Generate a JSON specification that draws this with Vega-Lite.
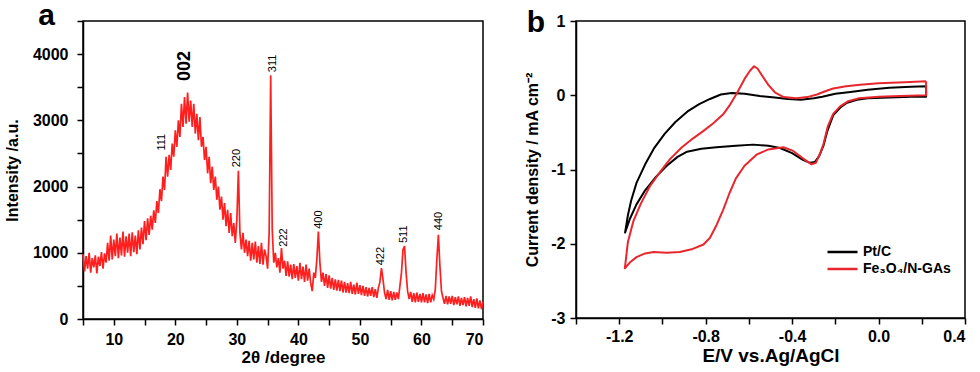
{
 "$schema": "https://vega.github.io/schema/vega-lite/v6.json",
 "background": "white",
 "padding": {"left": 3, "top": 0, "right": 5, "bottom": 2},
 "config": {
  "font": "Liberation Sans",
  "view": {"stroke": "black", "strokeWidth": 1.5},
  "axis": {"domainColor": "black", "domainWidth": 1.5, "tickColor": "black", "tickWidth": 1.5, "tickSize": 6, "labelColor": "black", "labelFont": "Liberation Sans", "labelFontWeight": "bold", "labelFontSize": 16, "labelOverlap": false, "titleColor": "black", "titleFont": "Liberation Sans", "titleFontWeight": "bold", "grid": false}
 },
 "datasets": {
  "xrd": [
   {"t":5,"i":980},{"t":5.25,"i":720},{"t":5.5,"i":950},{"t":5.75,"i":760},{"t":6,"i":1000},{"t":6.25,"i":700},{"t":6.5,"i":920},{"t":6.75,"i":780},
   {"t":7,"i":960},{"t":7.25,"i":690},{"t":7.5,"i":940},{"t":7.75,"i":800},{"t":8,"i":1010},{"t":8.25,"i":760},{"t":8.5,"i":990},{"t":8.75,"i":850},
   {"t":9,"i":1150},{"t":9.25,"i":880},{"t":9.5,"i":1260},{"t":9.75,"i":900},{"t":10,"i":1200},{"t":10.25,"i":950},{"t":10.5,"i":1290},{"t":10.75,"i":920},
   {"t":11,"i":1230},{"t":11.25,"i":960},{"t":11.5,"i":1320},{"t":11.75,"i":940},{"t":12,"i":1250},{"t":12.25,"i":1000},{"t":12.5,"i":1290},{"t":12.75,"i":950},
   {"t":13,"i":1310},{"t":13.25,"i":1010},{"t":13.5,"i":1260},{"t":13.75,"i":980},{"t":14,"i":1340},{"t":14.25,"i":1050},{"t":14.5,"i":1380},{"t":14.75,"i":1130},
   {"t":15,"i":1480},{"t":15.25,"i":1190},{"t":15.5,"i":1520},{"t":15.75,"i":1270},{"t":16,"i":1560},{"t":16.25,"i":1350},{"t":16.5,"i":1640},{"t":16.75,"i":1450},
   {"t":17,"i":1780},{"t":17.25,"i":1600},{"t":17.5,"i":1960},{"t":17.75,"i":1780},{"t":18,"i":2150},{"t":18.25,"i":1950},{"t":18.5,"i":2450},{"t":18.75,"i":2150},
   {"t":19,"i":2480},{"t":19.25,"i":2250},{"t":19.5,"i":2650},{"t":19.75,"i":2450},{"t":20,"i":2850},{"t":20.25,"i":2600},{"t":20.5,"i":3000},{"t":20.75,"i":2750},
   {"t":21,"i":3250},{"t":21.25,"i":2900},{"t":21.5,"i":3350},{"t":21.75,"i":2950},{"t":22,"i":3420},{"t":22.25,"i":2980},{"t":22.5,"i":3300},{"t":22.75,"i":2900},
   {"t":23,"i":3250},{"t":23.25,"i":2800},{"t":23.5,"i":3100},{"t":23.75,"i":2700},{"t":24,"i":3050},{"t":24.25,"i":2600},{"t":24.5,"i":2750},{"t":24.75,"i":2400},
   {"t":25,"i":2600},{"t":25.25,"i":2200},{"t":25.5,"i":2450},{"t":25.75,"i":2050},{"t":26,"i":2300},{"t":26.25,"i":1950},{"t":26.5,"i":2150},{"t":26.75,"i":1800},
   {"t":27,"i":2000},{"t":27.25,"i":1650},{"t":27.5,"i":1850},{"t":27.75,"i":1500},{"t":28,"i":1750},{"t":28.25,"i":1400},{"t":28.5,"i":1650},{"t":28.75,"i":1300},
   {"t":29,"i":1600},{"t":29.25,"i":1250},{"t":29.5,"i":1450},{"t":29.75,"i":1150},{"t":30,"i":1500},{"t":30.25,"i":2240},{"t":30.5,"i":1300},{"t":30.75,"i":1050},
   {"t":31,"i":1300},{"t":31.25,"i":1000},{"t":31.5,"i":1200},{"t":31.75,"i":950},{"t":32,"i":1180},{"t":32.25,"i":880},{"t":32.5,"i":1150},{"t":32.75,"i":900},
   {"t":33,"i":1170},{"t":33.25,"i":850},{"t":33.5,"i":1100},{"t":33.75,"i":830},{"t":34,"i":1150},{"t":34.25,"i":820},{"t":34.5,"i":1050},{"t":34.75,"i":950},
   {"t":35,"i":760},{"t":35.25,"i":1300},{"t":35.5,"i":3680},{"t":35.75,"i":1350},{"t":36,"i":850},{"t":36.25,"i":1000},{"t":36.5,"i":780},{"t":36.75,"i":920},
   {"t":37,"i":700},{"t":37.25,"i":1070},{"t":37.5,"i":760},{"t":37.75,"i":880},{"t":38,"i":650},{"t":38.25,"i":870},{"t":38.5,"i":640},{"t":38.75,"i":820},
   {"t":39,"i":600},{"t":39.25,"i":830},{"t":39.5,"i":620},{"t":39.75,"i":800},{"t":40,"i":580},{"t":40.25,"i":850},{"t":40.5,"i":600},{"t":40.75,"i":790},
   {"t":41,"i":560},{"t":41.25,"i":820},{"t":41.5,"i":580},{"t":41.75,"i":760},{"t":42,"i":540},{"t":42.25,"i":420},{"t":42.5,"i":700},{"t":42.75,"i":620},
   {"t":43,"i":900},{"t":43.25,"i":1320},{"t":43.5,"i":850},{"t":43.75,"i":560},{"t":44,"i":700},{"t":44.25,"i":500},{"t":44.5,"i":680},{"t":44.75,"i":470},
   {"t":45,"i":660},{"t":45.25,"i":460},{"t":45.5,"i":620},{"t":45.75,"i":440},{"t":46,"i":600},{"t":46.25,"i":430},{"t":46.5,"i":590},{"t":46.75,"i":420},
   {"t":47,"i":580},{"t":47.25,"i":400},{"t":47.5,"i":560},{"t":47.75,"i":400},{"t":48,"i":540},{"t":48.25,"i":390},{"t":48.5,"i":560},{"t":48.75,"i":380},
   {"t":49,"i":520},{"t":49.25,"i":370},{"t":49.5,"i":550},{"t":49.75,"i":380},{"t":50,"i":510},{"t":50.25,"i":360},{"t":50.5,"i":500},{"t":50.75,"i":350},
   {"t":51,"i":480},{"t":51.25,"i":340},{"t":51.5,"i":470},{"t":51.75,"i":350},{"t":52,"i":480},{"t":52.25,"i":330},{"t":52.5,"i":450},{"t":52.75,"i":320},
   {"t":53,"i":470},{"t":53.25,"i":560},{"t":53.5,"i":770},{"t":53.75,"i":600},{"t":54,"i":400},{"t":54.25,"i":300},{"t":54.5,"i":440},{"t":54.75,"i":290},
   {"t":55,"i":420},{"t":55.25,"i":280},{"t":55.5,"i":410},{"t":55.75,"i":290},{"t":56,"i":400},{"t":56.25,"i":300},{"t":56.5,"i":500},{"t":56.75,"i":700},
   {"t":57,"i":1050},{"t":57.25,"i":1100},{"t":57.5,"i":700},{"t":57.75,"i":420},{"t":58,"i":300},{"t":58.25,"i":410},{"t":58.5,"i":260},{"t":58.75,"i":390},
   {"t":59,"i":250},{"t":59.25,"i":400},{"t":59.5,"i":260},{"t":59.75,"i":380},{"t":60,"i":250},{"t":60.25,"i":390},{"t":60.5,"i":250},{"t":60.75,"i":370},
   {"t":61,"i":240},{"t":61.25,"i":380},{"t":61.5,"i":250},{"t":61.75,"i":360},{"t":62,"i":300},{"t":62.25,"i":450},{"t":62.5,"i":900},{"t":62.75,"i":1270},
   {"t":63,"i":800},{"t":63.25,"i":420},{"t":63.5,"i":320},{"t":63.75,"i":230},{"t":64,"i":350},{"t":64.25,"i":220},{"t":64.5,"i":340},{"t":64.75,"i":230},
   {"t":65,"i":350},{"t":65.25,"i":210},{"t":65.5,"i":330},{"t":65.75,"i":220},{"t":66,"i":340},{"t":66.25,"i":200},{"t":66.5,"i":320},{"t":66.75,"i":210},
   {"t":67,"i":330},{"t":67.25,"i":190},{"t":67.5,"i":320},{"t":67.75,"i":200},{"t":68,"i":340},{"t":68.25,"i":180},{"t":68.5,"i":300},{"t":68.75,"i":170},
   {"t":69,"i":310},{"t":69.25,"i":160},{"t":69.5,"i":280},{"t":69.75,"i":150},{"t":70,"i":260}
  ],
  "xlab": [
   {"label":"002","t":21.6,"i":3820},
   {"label":"111","t":17.9,"i":2670},
   {"label":"220","t":30.1,"i":2430},
   {"label":"311","t":35.8,"i":3860},
   {"label":"222","t":37.6,"i":1230},
   {"label":"400","t":43.3,"i":1500},
   {"label":"422","t":53.4,"i":950},
   {"label":"511","t":57.1,"i":1280},
   {"label":"440","t":62.8,"i":1480}
  ],
  "panelA": [{"label":"a","t":-0.9,"i":4440}],
  "panelB": [{"label":"b","e":-1.585,"j":0.852}],
  "cv": [
   {"s":"Pt/C","k":1,"e":0.22,"j":0.12},{"s":"Pt/C","k":2,"e":0.15,"j":0.115},{"s":"Pt/C","k":3,"e":0.05,"j":0.1},{"s":"Pt/C","k":4,"e":-0.05,"j":0.075},
   {"s":"Pt/C","k":5,"e":-0.13,"j":0.045},{"s":"Pt/C","k":6,"e":-0.2,"j":0.02},{"s":"Pt/C","k":7,"e":-0.26,"j":-0.02},{"s":"Pt/C","k":8,"e":-0.3,"j":-0.04},
   {"s":"Pt/C","k":9,"e":-0.36,"j":-0.06},{"s":"Pt/C","k":10,"e":-0.42,"j":-0.05},{"s":"Pt/C","k":11,"e":-0.48,"j":-0.03},{"s":"Pt/C","k":12,"e":-0.55,"j":-0.01},
   {"s":"Pt/C","k":13,"e":-0.62,"j":0.02},{"s":"Pt/C","k":14,"e":-0.68,"j":0.03},{"s":"Pt/C","k":15,"e":-0.73,"j":0.01},{"s":"Pt/C","k":16,"e":-0.78,"j":-0.05},
   {"s":"Pt/C","k":17,"e":-0.83,"j":-0.12},{"s":"Pt/C","k":18,"e":-0.88,"j":-0.21},{"s":"Pt/C","k":19,"e":-0.94,"j":-0.36},{"s":"Pt/C","k":20,"e":-0.99,"j":-0.52},
   {"s":"Pt/C","k":21,"e":-1.04,"j":-0.72},{"s":"Pt/C","k":22,"e":-1.08,"j":-0.93},{"s":"Pt/C","k":23,"e":-1.12,"j":-1.18},{"s":"Pt/C","k":24,"e":-1.145,"j":-1.42},
   {"s":"Pt/C","k":25,"e":-1.16,"j":-1.62},{"s":"Pt/C","k":26,"e":-1.173,"j":-1.85},{"s":"Pt/C","k":27,"e":-1.15,"j":-1.66},{"s":"Pt/C","k":28,"e":-1.12,"j":-1.47},
   {"s":"Pt/C","k":29,"e":-1.08,"j":-1.28},{"s":"Pt/C","k":30,"e":-1.03,"j":-1.1},{"s":"Pt/C","k":31,"e":-0.98,"j":-0.95},{"s":"Pt/C","k":32,"e":-0.93,"j":-0.83},
   {"s":"Pt/C","k":33,"e":-0.886,"j":-0.76},{"s":"Pt/C","k":34,"e":-0.82,"j":-0.72},{"s":"Pt/C","k":35,"e":-0.75,"j":-0.7},{"s":"Pt/C","k":36,"e":-0.66,"j":-0.68},
   {"s":"Pt/C","k":37,"e":-0.58,"j":-0.665},{"s":"Pt/C","k":38,"e":-0.51,"j":-0.68},{"s":"Pt/C","k":39,"e":-0.456,"j":-0.71},{"s":"Pt/C","k":40,"e":-0.4,"j":-0.78},
   {"s":"Pt/C","k":41,"e":-0.35,"j":-0.87},{"s":"Pt/C","k":42,"e":-0.317,"j":-0.91},{"s":"Pt/C","k":43,"e":-0.295,"j":-0.9},{"s":"Pt/C","k":44,"e":-0.275,"j":-0.82},
   {"s":"Pt/C","k":45,"e":-0.255,"j":-0.68},{"s":"Pt/C","k":46,"e":-0.238,"j":-0.49},{"s":"Pt/C","k":47,"e":-0.21,"j":-0.27},{"s":"Pt/C","k":48,"e":-0.175,"j":-0.16},
   {"s":"Pt/C","k":49,"e":-0.146,"j":-0.1},{"s":"Pt/C","k":50,"e":-0.1,"j":-0.06},{"s":"Pt/C","k":51,"e":-0.05,"j":-0.04},{"s":"Pt/C","k":52,"e":0.05,"j":-0.03},
   {"s":"Pt/C","k":53,"e":0.15,"j":-0.02},{"s":"Pt/C","k":54,"e":0.22,"j":-0.02},{"s":"Pt/C","k":55,"e":0.22,"j":0.12},
   {"s":"Fe₃O₄/N-GAs","k":1,"e":0.22,"j":0.19},{"s":"Fe₃O₄/N-GAs","k":2,"e":0.12,"j":0.175},{"s":"Fe₃O₄/N-GAs","k":3,"e":0,"j":0.16},{"s":"Fe₃O₄/N-GAs","k":4,"e":-0.085,"j":0.14},
   {"s":"Fe₃O₄/N-GAs","k":5,"e":-0.15,"j":0.12},{"s":"Fe₃O₄/N-GAs","k":6,"e":-0.21,"j":0.09},{"s":"Fe₃O₄/N-GAs","k":7,"e":-0.25,"j":0.05},{"s":"Fe₃O₄/N-GAs","k":8,"e":-0.285,"j":0.01},
   {"s":"Fe₃O₄/N-GAs","k":9,"e":-0.33,"j":-0.025},{"s":"Fe₃O₄/N-GAs","k":10,"e":-0.38,"j":-0.04},{"s":"Fe₃O₄/N-GAs","k":11,"e":-0.44,"j":-0.025},{"s":"Fe₃O₄/N-GAs","k":12,"e":-0.48,"j":0.04},
   {"s":"Fe₃O₄/N-GAs","k":13,"e":-0.51,"j":0.14},{"s":"Fe₃O₄/N-GAs","k":14,"e":-0.54,"j":0.27},{"s":"Fe₃O₄/N-GAs","k":15,"e":-0.56,"j":0.36},{"s":"Fe₃O₄/N-GAs","k":16,"e":-0.576,"j":0.39},
   {"s":"Fe₃O₄/N-GAs","k":17,"e":-0.595,"j":0.33},{"s":"Fe₃O₄/N-GAs","k":18,"e":-0.62,"j":0.22},{"s":"Fe₃O₄/N-GAs","k":19,"e":-0.655,"j":0.03},{"s":"Fe₃O₄/N-GAs","k":20,"e":-0.69,"j":-0.14},
   {"s":"Fe₃O₄/N-GAs","k":21,"e":-0.72,"j":-0.26},{"s":"Fe₃O₄/N-GAs","k":22,"e":-0.766,"j":-0.38},{"s":"Fe₃O₄/N-GAs","k":23,"e":-0.81,"j":-0.48},{"s":"Fe₃O₄/N-GAs","k":24,"e":-0.858,"j":-0.58},
   {"s":"Fe₃O₄/N-GAs","k":25,"e":-0.91,"j":-0.7},{"s":"Fe₃O₄/N-GAs","k":26,"e":-0.965,"j":-0.86},{"s":"Fe₃O₄/N-GAs","k":27,"e":-1.01,"j":-1.03},{"s":"Fe₃O₄/N-GAs","k":28,"e":-1.057,"j":-1.22},
   {"s":"Fe₃O₄/N-GAs","k":29,"e":-1.1,"j":-1.46},{"s":"Fe₃O₄/N-GAs","k":30,"e":-1.135,"j":-1.7},{"s":"Fe₃O₄/N-GAs","k":31,"e":-1.16,"j":-1.98},{"s":"Fe₃O₄/N-GAs","k":32,"e":-1.174,"j":-2.33},
   {"s":"Fe₃O₄/N-GAs","k":33,"e":-1.15,"j":-2.25},{"s":"Fe₃O₄/N-GAs","k":34,"e":-1.12,"j":-2.18},{"s":"Fe₃O₄/N-GAs","k":35,"e":-1.08,"j":-2.13},{"s":"Fe₃O₄/N-GAs","k":36,"e":-1.04,"j":-2.11},
   {"s":"Fe₃O₄/N-GAs","k":37,"e":-0.98,"j":-2.12},{"s":"Fe₃O₄/N-GAs","k":38,"e":-0.92,"j":-2.11},{"s":"Fe₃O₄/N-GAs","k":39,"e":-0.86,"j":-2.07},{"s":"Fe₃O₄/N-GAs","k":40,"e":-0.81,"j":-2.01},
   {"s":"Fe₃O₄/N-GAs","k":41,"e":-0.78,"j":-1.92},{"s":"Fe₃O₄/N-GAs","k":42,"e":-0.75,"j":-1.75},{"s":"Fe₃O₄/N-GAs","k":43,"e":-0.72,"j":-1.55},{"s":"Fe₃O₄/N-GAs","k":44,"e":-0.69,"j":-1.32},
   {"s":"Fe₃O₄/N-GAs","k":45,"e":-0.66,"j":-1.12},{"s":"Fe₃O₄/N-GAs","k":46,"e":-0.62,"j":-0.95},{"s":"Fe₃O₄/N-GAs","k":47,"e":-0.565,"j":-0.8},{"s":"Fe₃O₄/N-GAs","k":48,"e":-0.51,"j":-0.73},
   {"s":"Fe₃O₄/N-GAs","k":49,"e":-0.44,"j":-0.7},{"s":"Fe₃O₄/N-GAs","k":50,"e":-0.395,"j":-0.75},{"s":"Fe₃O₄/N-GAs","k":51,"e":-0.35,"j":-0.85},{"s":"Fe₃O₄/N-GAs","k":52,"e":-0.31,"j":-0.93},
   {"s":"Fe₃O₄/N-GAs","k":53,"e":-0.29,"j":-0.91},{"s":"Fe₃O₄/N-GAs","k":54,"e":-0.27,"j":-0.78},{"s":"Fe₃O₄/N-GAs","k":55,"e":-0.255,"j":-0.66},{"s":"Fe₃O₄/N-GAs","k":56,"e":-0.235,"j":-0.42},
   {"s":"Fe₃O₄/N-GAs","k":57,"e":-0.21,"j":-0.25},{"s":"Fe₃O₄/N-GAs","k":58,"e":-0.178,"j":-0.15},{"s":"Fe₃O₄/N-GAs","k":59,"e":-0.14,"j":-0.08},{"s":"Fe₃O₄/N-GAs","k":60,"e":-0.09,"j":-0.04},
   {"s":"Fe₃O₄/N-GAs","k":61,"e":0,"j":-0.02},{"s":"Fe₃O₄/N-GAs","k":62,"e":0.1,"j":-0.01},{"s":"Fe₃O₄/N-GAs","k":63,"e":0.22,"j":0},{"s":"Fe₃O₄/N-GAs","k":64,"e":0.22,"j":0.19}
  ]
 },
 "bounds": "flush",
 "spacing": 93,
 "hconcat": [
  {
   "width": 400,
   "height": 298,
   "encoding": {
    "x": {"field": "t", "type": "quantitative", "scale": {"domain": [5, 70], "nice": false, "zero": false},
     "axis": {"values": [5,10,15,20,25,30,35,40,45,50,55,60,65,70], "labelOverlap": false, "labelExpr": "datum.value % 10 == 0 ? datum.label : ''", "title": "2θ /degree", "titleFontSize": 17, "labelPadding": 6, "titlePadding": 2}},
    "y": {"field": "i", "type": "quantitative", "scale": {"domain": [0, 4500], "nice": false},
     "axis": {"values": [0,500,1000,1500,2000,2500,3000,3500,4000,4500], "format": "d", "labelExpr": "datum.value % 1000 == 0 ? datum.label : ''", "title": "Intensity /a.u.", "titleFontSize": 16, "labelPadding": 9, "titlePadding": 12}}
   },
   "layer": [
    {
     "data": {"name": "xrd"},
     "mark": {"type": "line", "color": "#ff1f1f", "strokeWidth": 1.7}
    },
    {
     "data": {"name": "xlab"},
     "transform": [{"filter": "datum.label != '002'"}],
     "mark": {"type": "text", "angle": 270, "align": "center", "baseline": "middle", "font": "Liberation Sans", "fontSize": 11, "color": "black"},
     "encoding": {"text": {"field": "label"}}
    },
    {
     "data": {"name": "xlab"},
     "transform": [{"filter": "datum.label == '002'"}],
     "mark": {"type": "text", "angle": 270, "align": "center", "baseline": "middle", "font": "Liberation Sans", "fontSize": 18, "fontWeight": "bold", "color": "black"},
     "encoding": {"text": {"field": "label"}}
    },
    {
     "data": {"name": "panelA"},
     "mark": {"type": "text", "align": "center", "baseline": "alphabetic", "font": "Liberation Sans", "fontSize": 30, "fontWeight": "bold", "color": "black", "clip": false},
     "encoding": {"text": {"field": "label"}}
    }
   ]
  },
  {
   "width": 389,
   "height": 297,
   "encoding": {
    "x": {"field": "e", "type": "quantitative", "scale": {"domain": [-1.4, 0.4], "nice": false, "zero": false},
     "axis": {"values": [-1.4,-1.2,-1,-0.8,-0.6,-0.4,-0.2,0,0.2,0.4], "format": ".1f", "labelOverlap": false, "labelExpr": "round(datum.value*10) % 4 == 0 ? replace(datum.label, '−', '-') : ''", "title": "E/V vs.Ag/AgCl", "titleFontSize": 19, "labelPadding": 4, "titlePadding": 2}},
    "y": {"field": "j", "type": "quantitative", "scale": {"domain": [-3, 1], "nice": false},
     "axis": {"values": [-3,-2.5,-2,-1.5,-1,-0.5,0,0.5,1], "format": "d", "labelOverlap": false, "labelExpr": "datum.value % 1 == 0 ? replace(datum.label, '−', '-') : ''", "title": "Current density / mA cm⁻²", "titleFontSize": 16, "labelPadding": 5, "titlePadding": 10}}
   },
   "layer": [
    {
     "data": {"name": "cv"},
     "mark": {"type": "line", "strokeWidth": 2, "strokeJoin": "round"},
     "encoding": {
      "color": {"field": "s", "type": "nominal", "scale": {"domain": ["Pt/C", "Fe₃O₄/N-GAs"], "range": ["black", "#e8262d"]},
       "legend": {"orient": "none", "legendX": 743, "legendY": 224, "title": null, "symbolType": "stroke", "symbolStrokeWidth": 2.5, "symbolSize": 900, "clipHeight": 14, "labelFontSize": 14, "labelFontWeight": "bold", "labelColor": "black", "labelFont": "Liberation Sans", "rowPadding": 3}},
      "order": {"field": "k", "type": "quantitative"}
     }
    },
    {
     "data": {"name": "panelB"},
     "mark": {"type": "text", "align": "center", "baseline": "alphabetic", "font": "Liberation Sans", "fontSize": 30, "fontWeight": "bold", "color": "black", "clip": false},
     "encoding": {"text": {"field": "label"}}
    }
   ]
  }
 ]
}
